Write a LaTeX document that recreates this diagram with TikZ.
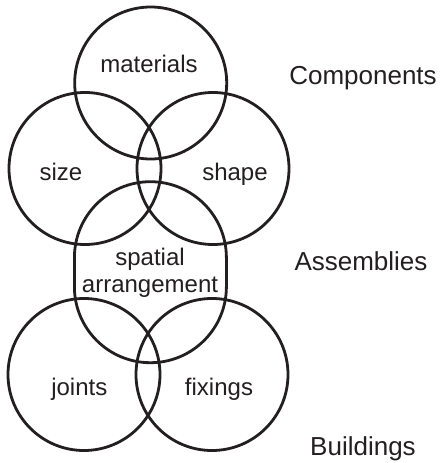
\documentclass[tikz,border=0pt]{standalone}
\usepackage{fontspec}
\setmainfont{Liberation Sans}
\definecolor{ink}{HTML}{231F20}
\begin{document}
\begin{tikzpicture}[x=1pt,y=-1pt,
  ring/.style={draw=ink, line width=2.8pt, circle, minimum size=152pt, inner sep=0pt, outer sep=0pt},
  inlabel/.style={anchor=base, font=\fontsize{24}{27}\selectfont, text=ink, inner sep=0pt},
  sidelabel/.style={anchor=base, font=\fontsize{26}{30}\selectfont, text=ink, inner sep=0pt}]
\useasboundingbox (0,0) rectangle (441,463);
% circles
\node[ring] (cmat) at (150.7,83) {};
\node[ring] (csize) at (85,168.5) {};
\node[ring] (cshape) at (213,168.5) {};
\node[ring] (cjoint) at (84,374.5) {};
\node[ring] (cfix) at (212,374.5) {};
% stadium
\draw[draw=ink, line width=2.8pt] (74.4,257.7) arc[start angle=180, end angle=360, radius=76]
  -- (226.4,286.7) arc[start angle=0, end angle=180, radius=76] -- cycle;
% labels
\node[inlabel] (tmat) at (149,72.7) {materials};
\node[inlabel] (tsize) at (61,180) {size};
\node[inlabel] (tshape) at (235,180) {shape};
\node[inlabel] (tsp) at (150,265) {spatial};
\node[inlabel] (tarr) at (150,292.3) {arrangement};
\node[inlabel] (tjoint) at (79.3,395) {joints};
\node[inlabel] (tfix) at (219,395) {fixings};
\node[sidelabel] (tcomp) at (363,84.3) {Components};
\node[sidelabel] (tass) at (361,270) {Assemblies};
\node[sidelabel] (tbuild) at (363,455) {Buildings};
\end{tikzpicture}
\end{document}
